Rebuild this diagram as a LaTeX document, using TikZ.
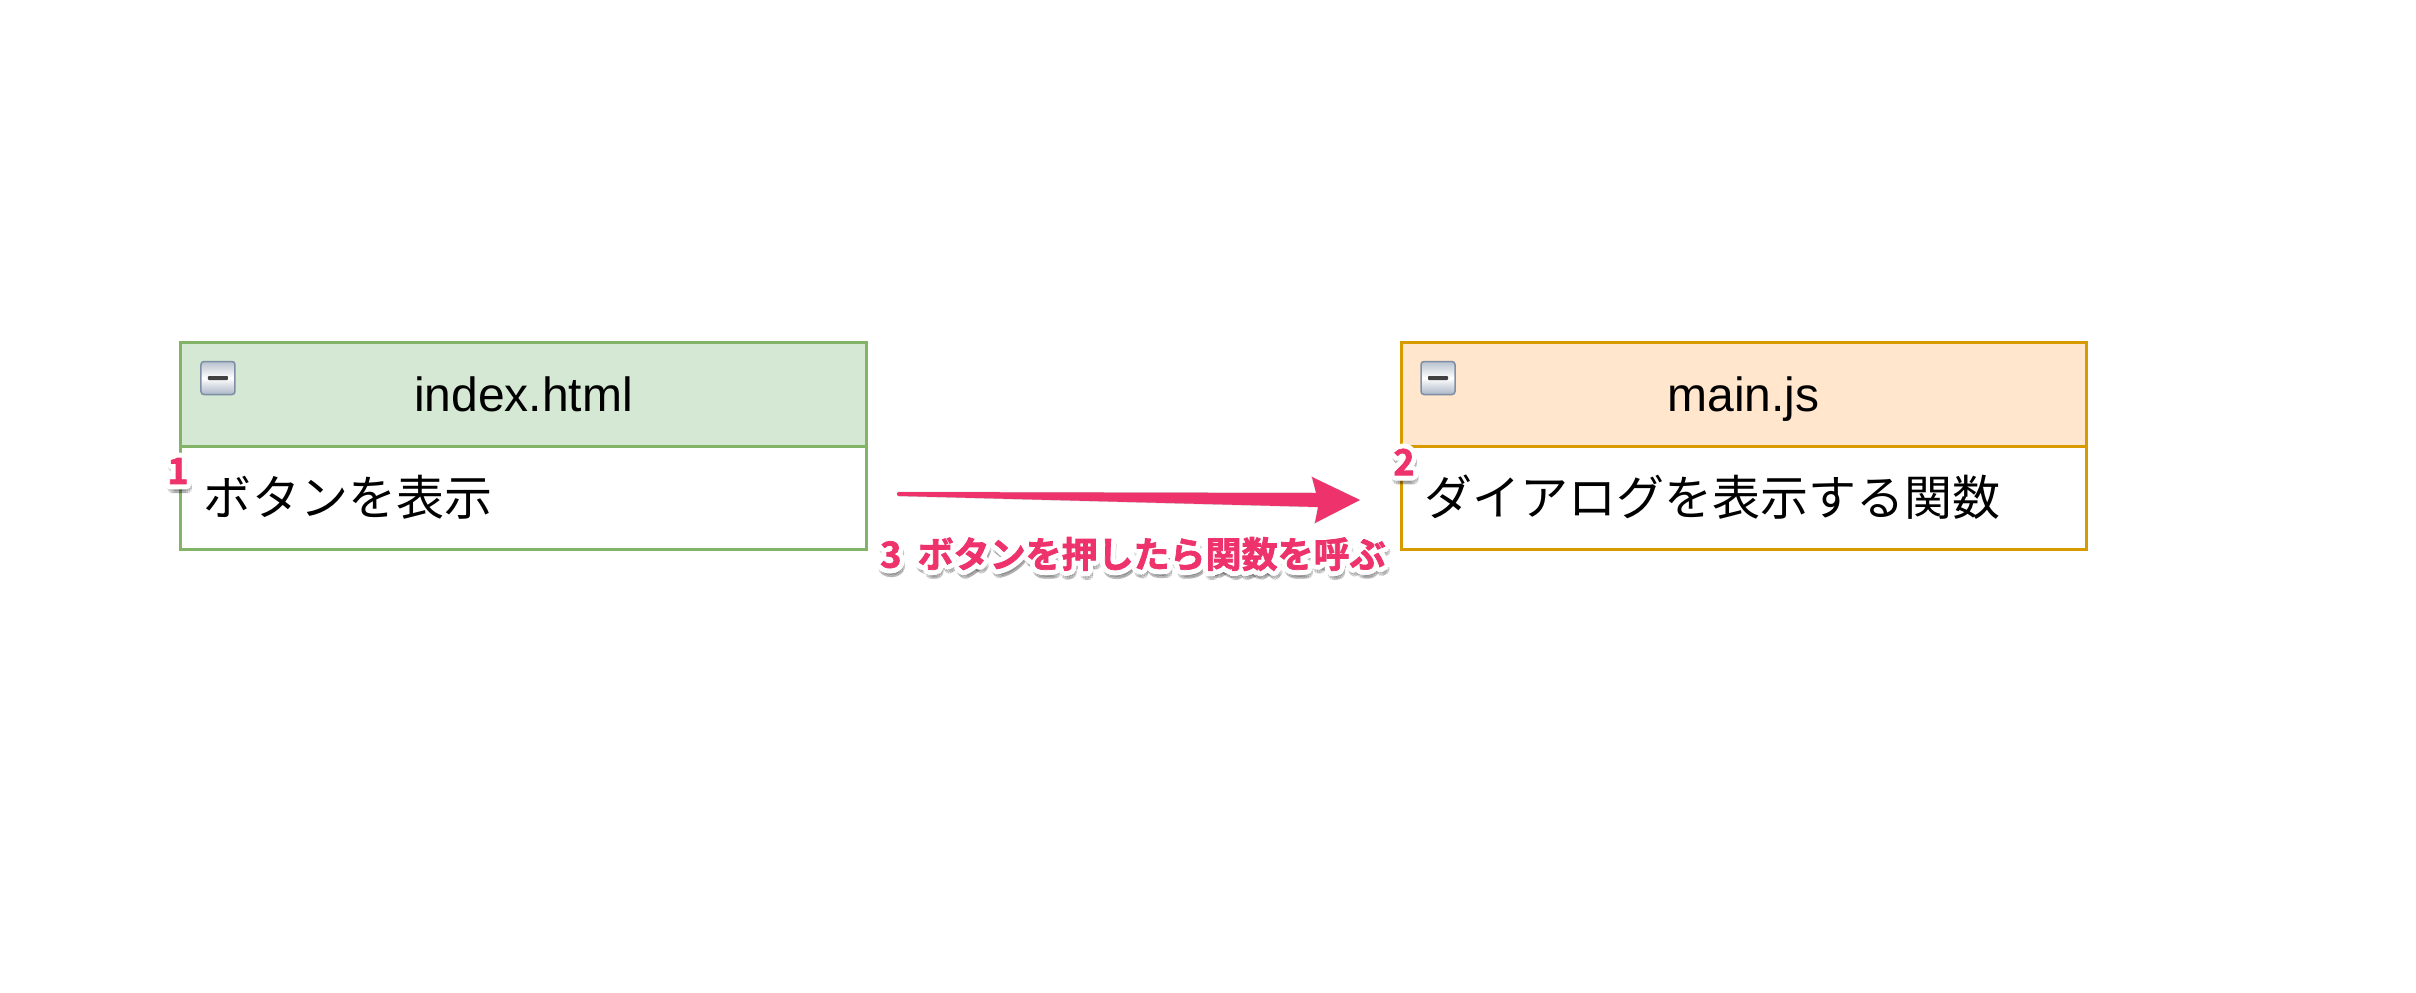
\documentclass[tikz,border=0pt]{standalone}
\usepackage{fontspec}
\setmainfont{Liberation Sans}
\newfontfamily\cjk{Noto Sans CJK JP}
\newfontfamily\cjkheavy[FakeBold=2]{Noto Sans CJK JP Bold}
\usetikzlibrary{calc}
\definecolor{grnd}{HTML}{82B366}
\definecolor{grnf}{HTML}{D5E8D4}
\definecolor{orgd}{HTML}{D79B00}
\definecolor{orgf}{HTML}{FFE6CC}
\definecolor{skpink}{RGB}{238,50,108}
\definecolor{icond}{RGB}{125,142,166}
\tikzset{
  hdrbox/.style={line width=3bp, outer sep=0pt, inner sep=0pt, minimum width=685bp, minimum height=104bp,
    font=\fontsize{48bp}{58bp}\selectfont, text height=34.5bp, text depth=0pt},
  bodybox/.style={line width=3bp, outer sep=0pt, inner ysep=0pt, inner xsep=23bp, text width=639bp, align=left,
    minimum height=103bp, font=\fontsize{48bp}{58bp}\selectfont\cjk, anchor=north, fill=white},
  iconbox/.style={draw=icond, line width=1.5bp, rounded corners=3bp, minimum width=34bp, minimum height=33bp,
    inner sep=0pt, top color=icond!55, bottom color=icond!65, middle color=white},
  sklbl/.style={inner sep=0pt, font=\fontsize{36bp}{42bp}\selectfont\cjkheavy},
}
\newcommand{\skitchlabel}[4]{% options, name, position, text
  \foreach \ang in {0,30,...,330}{\node[sklbl,#1,text=black,opacity=0.09] at ($(#3)+(\ang:4)+(1.5,5)$) {#4};}
  \foreach \ang in {0,22.5,...,337.5}{\node[sklbl,#1,text=white] at ($(#3)+(\ang:5)$) {#4};}
  \node[sklbl,#1,text=skpink] (#2) at (#3) {#4};
}
\begin{document}
\begin{tikzpicture}[x=1bp,y=-1bp]
\useasboundingbox (0,0) rectangle (2416,992);
\fill[white] (0,0) rectangle (2416,992);

% index.html
\node[hdrbox, draw=grnd, fill=grnf] (h1) at (523.5,394) {index.html};
\node[bodybox, draw=grnd] (b1) at (h1.south) {ボタンを表示};
\node[iconbox] (i1) at ($(h1.north west)+(37,36)$) {};
\fill[black!75, rounded corners=0.8bp] ($(i1.center)+(-10,-2)$) rectangle ($(i1.center)+(10,2)$);

% main.js
\node[hdrbox, draw=orgd, fill=orgf] (h2) at (1743.5,394) {main.js};
\node[bodybox, draw=orgd] (b2) at (h2.south) {ダイアログを表示する関数};
\node[iconbox] (i2) at ($(h2.north west)+(37,36)$) {};
\fill[black!75, rounded corners=0.8bp] ($(i2.center)+(-10,-2)$) rectangle ($(i2.center)+(10,2)$);

% arrow
\coordinate (as) at ($(b1.east)+(33,-3.5)$);
\coordinate (ae) at ($(b2.west)+(-41,2.5)$);
\begin{scope}[shift={(1.5,4)}]
\fill[black, opacity=0.15] ($(as)+(0,-2.5)$) -- ($(ae)+(-44,-7.5)$) -- ($(ae)+(-49,-24)$) -- (ae)
  -- ($(ae)+(-46,24)$) -- ($(ae)+(-42,7.5)$) -- ($(as)+(0,2.5)$) arc[start angle=90,end angle=270,radius=2.5] -- cycle;
\end{scope}
\fill[skpink] ($(as)+(0,-2)$) -- ($(ae)+(-44,-7)$) -- ($(ae)+(-48,-23)$) -- (ae)
  -- ($(ae)+(-45,23)$) -- ($(ae)+(-42,7)$) -- ($(as)+(0,2)$) arc[start angle=90,end angle=270,radius=2] -- cycle;

% labels
\coordinate (p1) at ($(b1.north west)+(-3,25)$);
\coordinate (p2) at ($(b2.north west)+(3,16)$);
\coordinate (p3) at ($(b1.south east)+(14,5)$);
\skitchlabel{}{n1}{p1}{1}
\skitchlabel{}{n2}{p2}{2}
\skitchlabel{anchor=west}{n3}{p3}{3\hspace{0.45em}ボタンを押したら関数を呼ぶ}
\end{tikzpicture}
\end{document}
